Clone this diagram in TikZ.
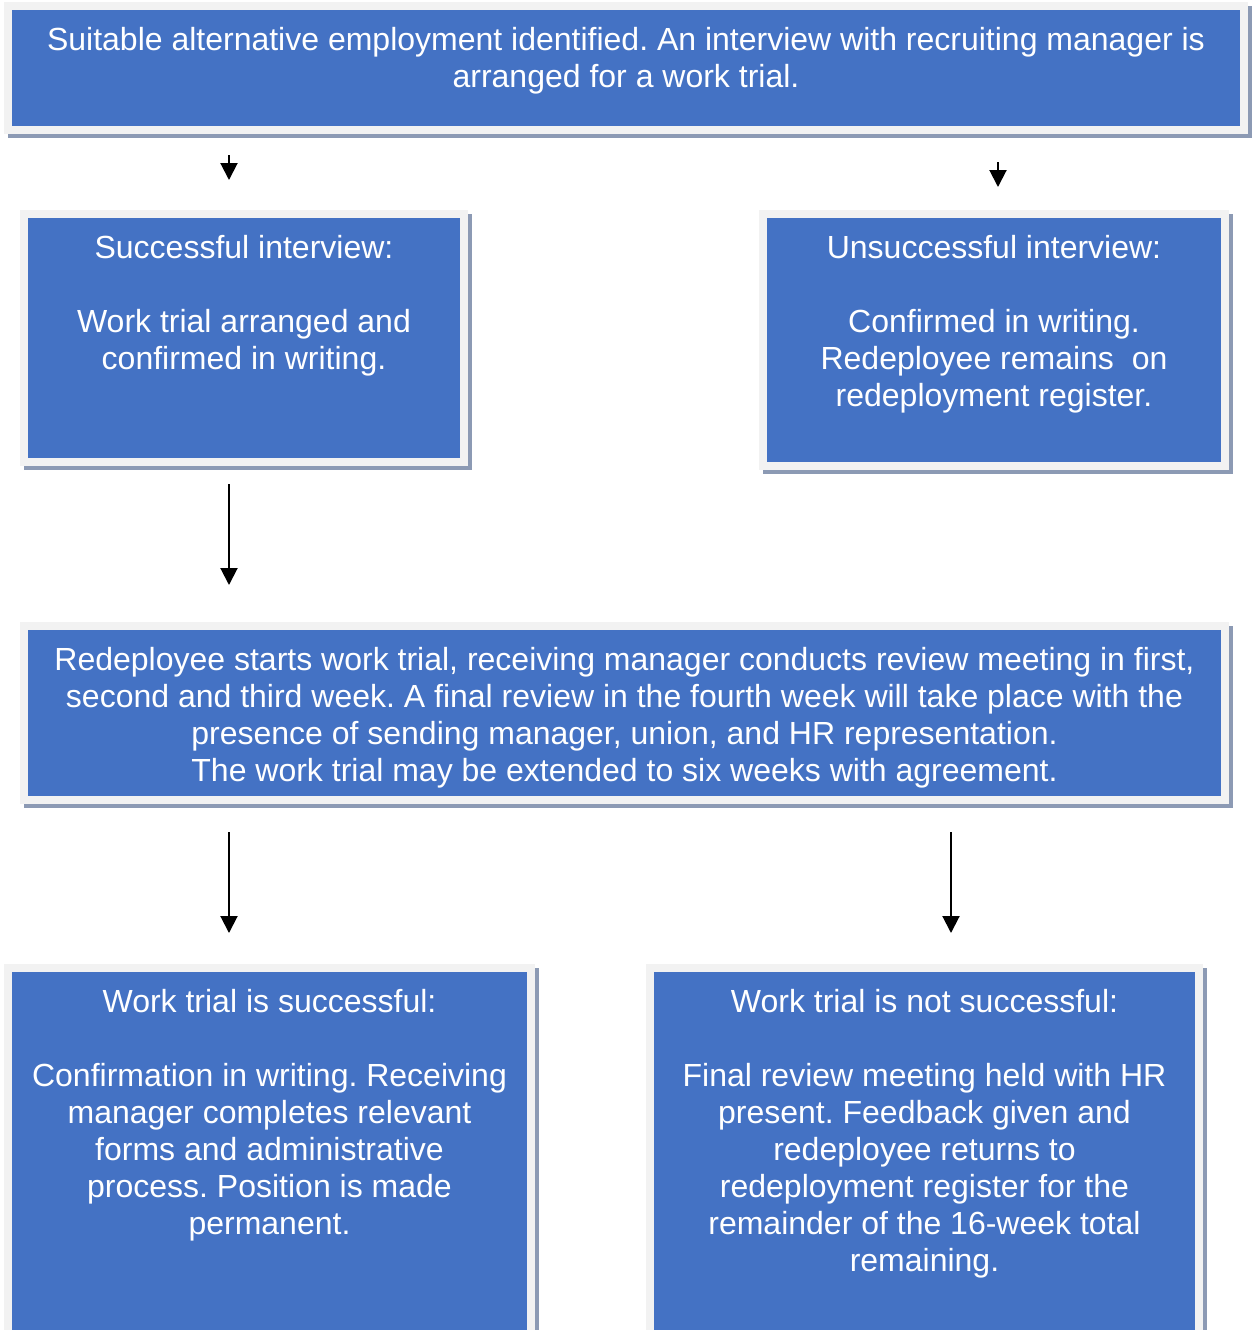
\documentclass[tikz,border=0pt]{standalone}
\usepackage{fontspec}
\setmainfont{Liberation Sans}
\usetikzlibrary{positioning,arrows.meta}
\definecolor{boxblue}{HTML}{4472C4}
\definecolor{framegray}{HTML}{F2F2F2}
\definecolor{shadowgray}{HTML}{8C9AB4}
\frenchspacing
\tikzset{
	stepbox/.style={draw=framegray, line width=4pt, fill=boxblue, outer sep=0pt, inner sep=0pt, anchor=north west,
		preaction={fill=shadowgray, draw=shadowgray, transform canvas={xshift=1.75pt, yshift=-2pt}}},
	steptext/.style={text=white, align=center, inner sep=0pt, font=\fontsize{16}{18.5}\selectfont},
	flow/.style={-{Triangle[width=8.5pt, length=8.5pt]}, line width=1pt}
}
\begin{document}
\begin{tikzpicture}[x=0.5pt, y=-0.5pt]
	\clip (0,0) rectangle (1254,1330);
	\node [stepbox, minimum width=618pt, minimum height=62pt] (found) at (8,6) {};
	\node [stepbox, minimum width=220pt, minimum height=124pt] (pass) at (24,214) {};
	\node [stepbox, minimum width=231pt, minimum height=126pt] (fail) at (763,214) {};
	\node [stepbox, minimum width=600.5pt, minimum height=87pt] (trial) at (24,626) {};
	\node [stepbox, minimum width=261.5pt, minimum height=196pt] (kept) at (8,968) {};
	\node [stepbox, minimum width=274.5pt, minimum height=196pt] (back) at (650,968) {};
	\node [steptext, below=10.5pt of found.north] (foundtext) {Suitable alternative employment identified. An interview with recruiting manager is\\arranged for a work trial.};
	\node [steptext, below=10.5pt of pass.north] (passtext) {Successful interview:\\[18.5pt]Work trial arranged and\\confirmed in writing.};
	\node [steptext, below=10.5pt of fail.north] (failtext) {Unsuccessful interview:\\[18.5pt]Confirmed in writing.\\Redeployee remains~ on\\redeployment register.};
	\node [steptext, below=10.5pt of trial.north] (trialtext) {Redeployee starts work trial, receiving manager conducts review meeting in first,\\second and third week. A final review in the fourth week will take place with the\\presence of sending manager, union, and HR representation.\\The work trial may be extended to six weeks with agreement.};
	\node [steptext, below=10.5pt of kept.north] (kepttext) {Work trial is successful:\\[18.5pt]Confirmation in writing. Receiving\\manager completes relevant\\forms and administrative\\process. Position is made\\permanent.};
	\node [steptext, below=10.5pt of back.north] (backtext) {Work trial is not successful:\\[18.5pt]Final review meeting held with HR\\present. Feedback given and\\redeployee returns to\\redeployment register for the\\remainder of the 16-week total\\remaining.};
	\coordinate (left) at (229,0);
	\coordinate (mid) at (998,0);
	\coordinate (right) at (951,0);
	\draw [flow, shorten <=12.5pt, shorten >=17pt] (found.south -| left) -- (pass.north -| left);
	\draw [flow, shorten <=16pt, shorten >=13.5pt] (found.south -| mid) -- (fail.north -| mid);
	\draw [flow, shorten <=11pt, shorten >=20.5pt] (pass.south -| left) -- (trial.north -| left);
	\draw [flow, shorten <=16pt, shorten >=17.5pt] (trial.south -| left) -- (kept.north -| left);
	\draw [flow, shorten <=16pt, shorten >=17.5pt] (trial.south -| right) -- (back.north -| right);
\end{tikzpicture}
\end{document}
